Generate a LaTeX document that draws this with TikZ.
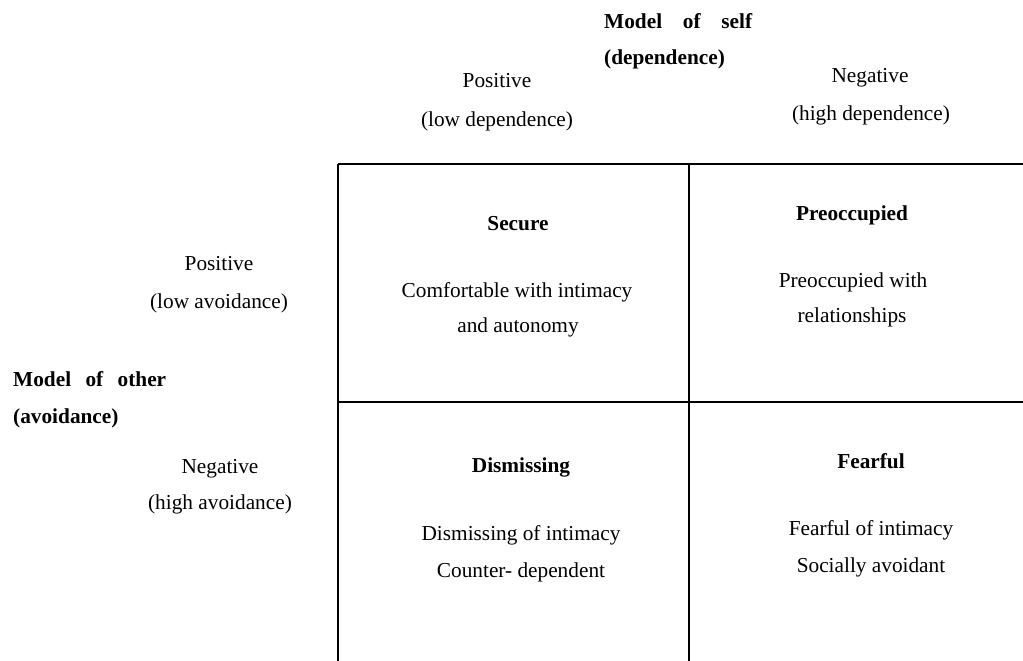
\documentclass[tikz,border=0pt]{standalone}
\usepackage{fontspec}
\setmainfont{Liberation Serif}
\tikzset{
  lbl/.style={anchor=base, inner sep=0pt, font=\fontsize{21.3}{25}\selectfont},
  hd/.style={anchor=base, inner sep=0pt, font=\fontsize{21.3}{25}\selectfont\bfseries},
  gridline/.style={line width=1.6pt, black}
}
\begin{document}
\begin{tikzpicture}[x=1pt,y=-1pt]
\useasboundingbox (0,0) rectangle (1023,661);
% grid coordinates
\coordinate (TL) at (338,164);
\coordinate (TM) at (689,164);
\coordinate (TR) at (1023,164);
\coordinate (ML) at (338,402);
\coordinate (MR) at (1023,402);
\coordinate (BL) at (338,661);
\coordinate (BM) at (689,661);
\draw[gridline] (TL) -- (TR);
\draw[gridline] (ML) -- (MR);
\draw[gridline] (TL) -- (BL);
\draw[gridline] (TM) -- (BM);
% axis headings
\node[hd, anchor=base west] (mself) at (604,29) {\makebox[148pt][s]{Model of self}};
\node[hd, anchor=base west] (dep) at (604,65) {(dependence)};
\node[lbl] (pos1) at (497,88) {Positive};
\node[lbl] (lowdep) at (497,126) {(low dependence)};
\node[lbl] (neg1) at (870,83) {Negative};
\node[lbl] (highdep) at (871,120) {(high dependence)};
\node[lbl] (pos2) at (219,270) {Positive};
\node[lbl] (lowav) at (219,308) {(low avoidance)};
\node[hd, anchor=base west] (mother) at (13,386) {\makebox[153pt][s]{Model of other}};
\node[hd, anchor=base west] (avoid) at (13,423) {(avoidance)};
\node[lbl] (neg2) at (220,473) {Negative};
\node[lbl] (highav) at (220,509) {(high avoidance)};
% cells
\node[hd] (secure) at (518,230) {Secure};
\node[lbl] (sec1) at (517,297) {Comfortable with intimacy};
\node[lbl] (sec2) at (518,332) {and autonomy};
\node[hd] (preocc) at (852,220) {Preoccupied};
\node[lbl] (pre1) at (853,287) {Preoccupied with};
\node[lbl] (pre2) at (852,322) {relationships};
\node[hd] (dism) at (521,472) {Dismissing};
\node[lbl] (dis1) at (521,540) {Dismissing of intimacy};
\node[lbl] (dis2) at (521,577) {Counter- dependent};
\node[hd] (fear) at (871,468) {Fearful};
\node[lbl] (fea1) at (871,535) {Fearful of intimacy};
\node[lbl] (fea2) at (871,572) {Socially avoidant};
\end{tikzpicture}
\end{document}
